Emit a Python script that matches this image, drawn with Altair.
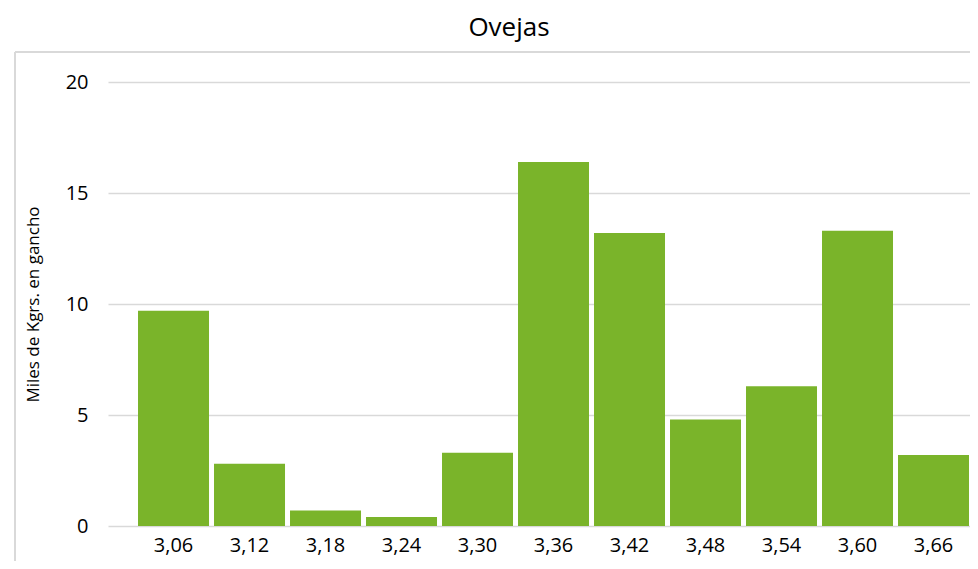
import altair as alt
import pandas as pd

categories = ["3,06", "3,12", "3,18", "3,24", "3,30", "3,36", "3,42", "3,48", "3,54", "3,60", "3,66"]
values = [9.7, 2.8, 0.7, 0.4, 3.3, 16.4, 13.2, 4.8, 6.3, 13.3, 3.2]
y_ticks = [0, 5, 10, 15, 20]

df = pd.DataFrame({"cat": categories, "val": values})

FONT = "Open Sans"
GRID = "#D9D9D9"

bars = alt.Chart(df).mark_bar(color="#7AB42A").encode(
    x=alt.X(
        "cat:N",
        sort=categories,
        scale=alt.Scale(paddingInner=0.0658, paddingOuter=0.204, align=0.968),
        axis=alt.Axis(
            title=None, labelAngle=0, domain=False, ticks=False, grid=False,
            labelFont=FONT, labelFontSize=20, labelColor="#000000", labelPadding=9,
        ),
    ),
    y=alt.Y(
        "val:Q",
        scale=alt.Scale(domain=[0, 20], nice=False),
        axis=alt.Axis(
            values=y_ticks,
            title="Miles de Kgrs. en gancho",
            titleFont=FONT, titleFontSize=17, titleFontWeight="normal", titleColor="#000000",
            titleX=-75, titleY=222, titleAngle=-90, titleAlign="center", titleBaseline="middle",
            labelFont=FONT, labelFontSize=20, labelColor="#000000", labelPadding=20,
            domain=False, ticks=False, grid=True, gridColor=GRID, gridWidth=1.5,
        ),
    ),
)

border_top = alt.Chart(df).mark_rule(color=GRID, strokeWidth=1.5).encode(
    x=alt.value(-93), x2=alt.value(862), y=alt.value(-30)
)
border_left = alt.Chart(df).mark_rule(color=GRID, strokeWidth=1.5).encode(
    x=alt.value(-93), y=alt.value(-30), y2=alt.value(479)
)

chart = alt.layer(border_top, border_left, bars).properties(
    width=862,
    height=444,
    autosize=alt.AutoSizeParams(type="none"),
    padding={"left": 100, "top": 74, "right": 0, "bottom": 35},
    title=alt.TitleParams(
        "Ovejas", font=FONT, fontSize=26, fontWeight="normal", color="#000000",
        anchor="middle", frame="group", baseline="alphabetic", offset=14, dx=-30, dy=25,
    ),
).configure_view(stroke=None)

chart.save("out.html", embed_options={"renderer": "svg", "actions": False})
